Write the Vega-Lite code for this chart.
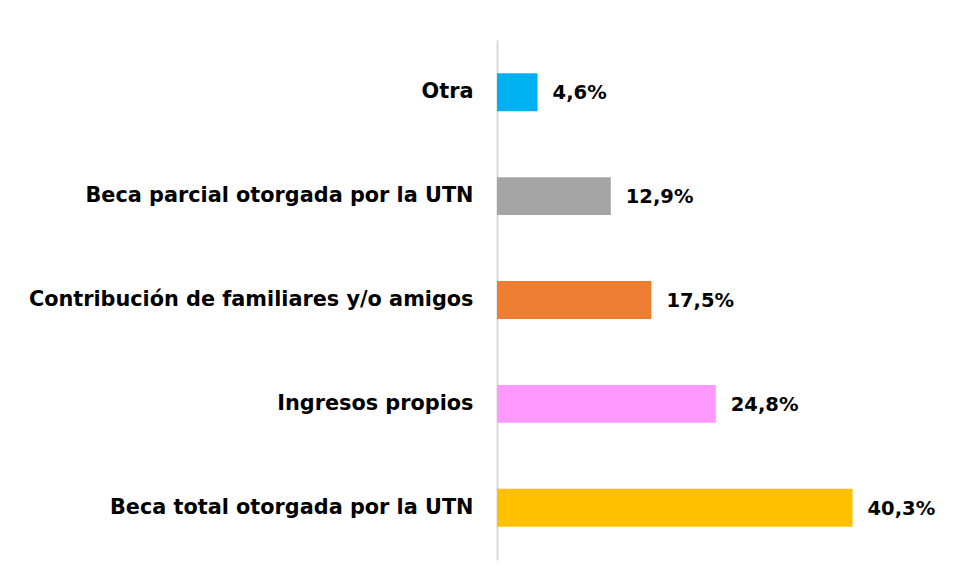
{
  "$schema": "https://vega.github.io/schema/vega-lite/v6.json",
  "width": 397,
  "height": 520,
  "autosize": {"type": "none"},
  "padding": {"left": 497, "top": 40, "right": 59, "bottom": 19},
  "background": "white",
  "config": {"view": {"stroke": null}, "font": "DejaVu Sans"},
  "data": {
    "values": [
      {"categoria": "Otra", "valor": 4.6, "etiqueta": "4,6%"},
      {"categoria": "Beca parcial otorgada por la UTN", "valor": 12.9, "etiqueta": "12,9%"},
      {"categoria": "Contribución de familiares y/o amigos", "valor": 17.5, "etiqueta": "17,5%"},
      {"categoria": "Ingresos propios", "valor": 24.8, "etiqueta": "24,8%"},
      {"categoria": "Beca total otorgada por la UTN", "valor": 40.3, "etiqueta": "40,3%"}
    ]
  },
  "encoding": {
    "y": {
      "field": "categoria",
      "type": "nominal",
      "sort": null,
      "scale": {"paddingInner": 0.635, "paddingOuter": 0.32},
      "axis": {
        "title": null,
        "ticks": false,
        "labelPadding": 24,
        "labelFontSize": 20.8,
        "labelFontWeight": "bold",
        "labelColor": "#000000",
        "labelLimit": 600,
        "domainColor": "#d9d9d9",
        "domainWidth": 2
      }
    },
    "x": {
      "field": "valor",
      "type": "quantitative",
      "scale": {"domain": [0, 45], "nice": false},
      "axis": null
    }
  },
  "layer": [
    {
      "mark": {"type": "bar"},
      "encoding": {
        "color": {
          "field": "categoria",
          "type": "nominal",
          "scale": {
            "domain": ["Otra", "Beca parcial otorgada por la UTN", "Contribución de familiares y/o amigos", "Ingresos propios", "Beca total otorgada por la UTN"],
            "range": ["#00B0F0", "#A5A5A5", "#ED7D31", "#FF99FF", "#FFC000"]
          },
          "legend": null
        }
      }
    },
    {
      "mark": {"type": "text", "align": "left", "baseline": "middle", "dx": 15, "dy": 1, "fontSize": 19.5, "fontWeight": "bold", "color": "#000000"},
      "encoding": {"text": {"field": "etiqueta"}}
    }
  ]
}
